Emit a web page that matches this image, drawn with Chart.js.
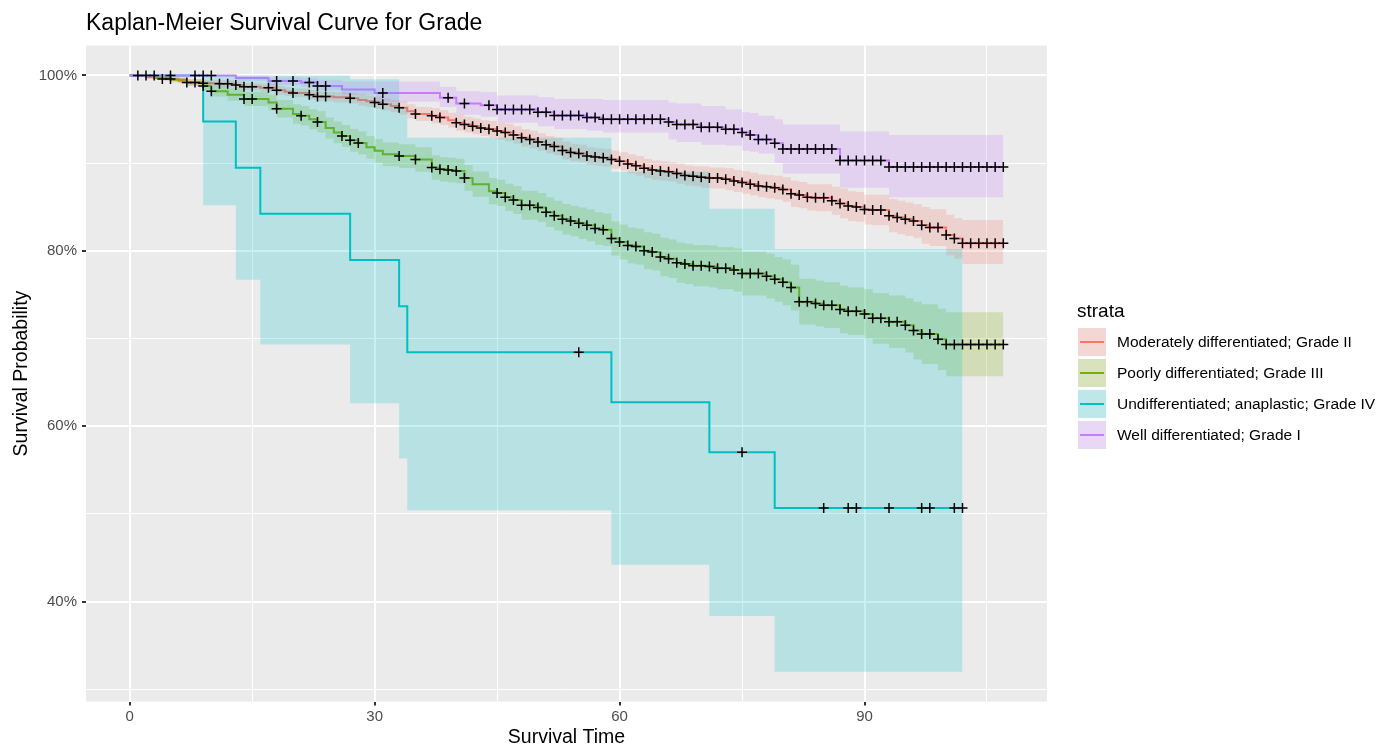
<!DOCTYPE html>
<html>
<head>
<meta charset="utf-8">
<title>Kaplan-Meier Survival Curve for Grade</title>
<script src="https://cdn.jsdelivr.net/npm/chart.js@4.4.1/dist/chart.umd.min.js"></script>
<style>
  body { margin: 0; background: #fff; font-family: 'Liberation Sans', Arial, sans-serif; }
  #wrap { position: relative; width: 1378px; height: 749px; }
  #legend { position: absolute; left: 1077px; top: 297px; color: #000; }
  #legend .ttl { font-size: 19px; line-height: 28px; height: 28px; }
  #legend .row { display: flex; align-items: center; height: 28px; margin-top: 3px; }
  #legend .key { position: relative; width: 28px; height: 28px; margin-left: 1px; background: #f2f2f2; }
  #legend .fill { position: absolute; left: 0; top: 0; right: 0; bottom: 0; }
  #legend .line { position: absolute; left: 2px; right: 2px; top: 13px; height: 2px; }
  #legend .lbl { margin-left: 11px; font-size: 15.5px; white-space: nowrap; }
</style>
</head>
<body>
<div id="wrap">
  <canvas id="km" width="1378" height="749"></canvas>
  <div id="legend"></div>
</div>
<script>
// --- data ---
const titleText = 'Kaplan-Meier Survival Curve for Grade';
const xTicks = [0, 15, 30, 45, 60, 75, 90, 105];
const yTicks = [30, 40, 50, 60, 70, 80, 90, 100];
const strataNames = [
    'Moderately differentiated; Grade II',
    'Poorly differentiated; Grade III',
    'Undifferentiated; anaplastic; Grade IV',
    'Well differentiated; Grade I'
];
const strataColors = ['#F8766D', '#7CAE00', '#00BFC4', '#C77CFF'];
const bandAlpha = 0.22;

// Moderately differentiated; Grade II
const modTime = [0,2,4,6,7,9,11,13,14,16,18,19,20,22,23,25,27,28,29,30,31,32,33,34,35,37,38,39,40,41,42,43,44,45,46,47,48,49,50,51,52,53,54,55,56,57,58,59,60,61,62,63,64,65,66,67,68,69,70,71,73,74,75,76,77,78,79,80,81,82,83,84,86,87,88,89,90,91,93,94,95,96,97,98,100,101,102,107];
const modSurv = [100,99.8,99.6,99.4,99.2,99.1,99.05,98.9,98.7,98.6,98.3,98.15,98.0,97.8,97.6,97.5,97.4,97.2,97.05,96.9,96.7,96.5,96.3,95.9,95.6,95.4,95.2,94.9,94.6,94.4,94.2,94.0,93.85,93.65,93.5,93.2,92.9,92.7,92.4,92.1,91.9,91.45,91.2,91.1,90.8,90.7,90.6,90.4,90.2,89.9,89.7,89.4,89.2,89.1,89.0,88.8,88.6,88.5,88.4,88.3,88.15,87.95,87.8,87.6,87.4,87.3,87.2,87.0,86.5,86.35,86.1,86.05,85.7,85.4,85.1,85.0,84.7,84.65,84.0,83.8,83.6,83.4,82.9,82.65,81.8,81.4,80.85,80.85];
const modLower = [100,99.65,99.35,99.1,98.85,98.75,98.65,98.5,98.3,98.15,97.8,97.65,97.5,97.25,97.05,96.9,96.8,96.55,96.4,96.2,96.0,95.8,95.55,95.1,94.8,94.55,94.35,94.05,93.7,93.5,93.3,93.1,92.9,92.7,92.5,92.2,91.9,91.7,91.4,91.1,90.9,90.45,90.2,90.1,89.8,89.7,89.6,89.35,89.15,88.8,88.6,88.3,88.1,88.0,87.9,87.65,87.45,87.35,87.2,87.1,86.9,86.7,86.5,86.3,86.1,85.95,85.85,85.6,85.0,84.85,84.6,84.5,84.1,83.7,83.4,83.3,83.0,82.9,82.1,81.9,81.7,81.5,80.8,80.55,79.5,79.1,78.5,78.5];
const modUpper = [100,99.95,99.85,99.7,99.55,99.45,99.45,99.3,99.1,99.05,98.8,98.65,98.5,98.35,98.15,98.1,98.0,97.85,97.7,97.6,97.4,97.2,97.05,96.7,96.4,96.25,96.05,95.75,95.5,95.3,95.1,94.9,94.8,94.6,94.5,94.2,93.9,93.7,93.4,93.1,92.9,92.45,92.2,92.1,91.8,91.7,91.6,91.45,91.25,91.0,90.8,90.5,90.3,90.2,90.1,89.95,89.75,89.65,89.6,89.5,89.4,89.2,89.1,88.9,88.7,88.65,88.55,88.4,88.0,87.85,87.6,87.6,87.3,87.1,86.8,86.7,86.4,86.4,85.9,85.7,85.5,85.3,85.0,84.75,84.1,83.7,83.5,83.5];
const modCensor = [4,5,7,8,9,11,12,13,14,15,17,18,20,22,23,24,27,30,31,33,35,37,38,40,41,42,43,44,45,46,47,48,49,50,51,52,53,54,55,56,57,58,59,60,61,62,63,64,65,66,67,68,69,70,71,72,73,74,75,76,77,78,79,80,81,82,83,84,85,86,87,88,89,90,91,92,93,94,95,96,97,98,99,100,101,102,103,104,105,106,107];

// Poorly differentiated; Grade III
const poorTime = [0,3,5,7,9,10,12,14,17,18,20,21,22,23,24,25,26,27,28,29,30,31,33,35,37,38,39,40,41,42,44,45,46,47,48,50,51,52,53,54,55,56,57,58,59,60,61,62,63,64,65,66,67,68,69,71,72,74,75,78,79,80,81,82,84,85,87,88,90,91,93,95,96,97,99,100,107];
const poorSurv = [100,99.7,99.5,99.2,98.8,98.2,97.8,97.3,96.9,96.2,95.6,95.4,95.0,94.7,94.0,93.5,93.1,92.6,92.3,91.8,91.4,91.0,90.8,90.4,89.5,89.3,89.2,89.1,88.3,87.6,86.8,86.6,86.1,85.8,85.2,84.95,84.4,84.0,83.6,83.4,83.15,82.9,82.55,82.4,81.4,81.0,80.6,80.5,80.0,79.85,79.3,79.1,78.65,78.5,78.3,78.2,78.0,77.8,77.4,77.1,76.75,76.4,75.8,74.2,74.0,73.8,73.3,73.1,72.8,72.3,71.9,71.5,70.9,70.5,69.9,69.3,69.3];
const poorLower = [100,99.5,99.2,98.8,98.3,97.6,97.1,96.5,96.0,95.2,94.5,94.3,93.85,93.5,92.8,92.25,91.85,91.3,91.0,90.5,90.05,89.65,89.45,89.0,88.1,87.9,87.8,87.7,86.85,86.15,85.3,85.1,84.55,84.2,83.55,83.3,82.7,82.3,81.85,81.65,81.35,81.1,80.7,80.55,79.45,79.0,78.55,78.45,77.9,77.75,77.1,76.9,76.35,76.2,75.95,75.8,75.6,75.35,74.9,74.55,74.2,73.8,73.2,71.6,71.4,71.2,70.6,70.4,70.0,69.4,68.9,68.4,67.6,67.1,66.4,65.7,65.7];
const poorUpper = [100,99.9,99.8,99.6,99.3,98.8,98.5,98.1,97.8,97.2,96.7,96.5,96.15,95.9,95.2,94.75,94.35,93.9,93.6,93.1,92.75,92.35,92.15,91.8,90.9,90.7,90.6,90.5,89.75,89.05,88.3,88.1,87.65,87.4,86.85,86.6,86.1,85.7,85.35,85.15,84.95,84.7,84.4,84.25,83.35,83.0,82.65,82.55,82.1,81.95,81.5,81.3,80.95,80.8,80.65,80.6,80.4,80.25,79.9,79.65,79.3,79.0,78.4,76.8,76.6,76.4,76.0,75.8,75.6,75.2,74.9,74.6,74.2,73.9,73.4,73.0,73.0];
const poorCensor = [9,10,14,15,18,21,23,26,27,28,33,35,37,38,39,40,41,45,46,47,48,49,50,51,52,53,54,55,56,57,58,59,60,61,62,63,64,65,66,67,68,69,70,71,72,73,74,75,76,77,78,79,80,81,82,83,84,85,86,87,88,89,90,91,92,93,94,95,96,97,98,99,100,101,102,103,104,105,106,107];

// Undifferentiated; anaplastic; Grade IV
const undTime = [0,9,13,16,27,33,34,59,71,79,102];
const undSurv = [100,94.74,89.47,84.21,78.95,73.68,68.42,62.72,57.02,50.68,50.68];
const undLower = [100,85.2,76.7,69.3,62.6,56.3,50.4,44.2,38.35,32.0,32.0];
const undUpper = [100,100,100,100,99.55,96.4,92.9,89.0,84.8,80.2,80.2];
const undCensor = [55,75,85,88,89,93,97,98,101,102];

// Well differentiated; Grade I
const wellTime = [0,13,17,21,23,26,30,38,40,43,45,50,52,56,58,66,67,70,73,75,76,77,79,80,87,93,107];
const wellSurv = [100,99.7,99.35,99.2,98.8,98.4,98.0,97.46,96.8,96.6,96.1,95.8,95.44,95.2,95.0,94.7,94.4,94.1,93.85,93.5,93.2,92.7,92.25,91.6,90.3,89.55,89.55];
const wellLower = [100,99.4,98.9,98.7,98.3,97.8,97.0,96.4,95.5,95.3,94.6,94.2,93.9,93.7,93.5,92.7,92.4,92.1,92.0,91.4,91.3,91.1,90.0,88.8,87.2,86.1,86.1];
const wellUpper = [100,100,99.8,99.7,99.5,99.3,99.3,98.7,98.2,98.1,97.7,97.5,97.3,97.3,97.2,96.9,96.8,96.5,96.1,95.8,95.7,95.4,95.0,94.4,93.6,93.2,93.2];
const wellCensor = [1,2,3,5,8,9,10,18,20,22,23,24,31,39,41,44,45,46,47,48,49,50,51,52,53,54,55,56,57,58,59,60,61,62,63,64,65,66,67,68,69,70,71,72,73,74,75,76,77,78,79,80,81,82,83,84,85,86,87,88,89,90,91,92,93,94,95,96,97,98,99,100,101,102,103,104,105,106,107];

const strata = [
    { time: modTime, surv: modSurv, lower: modLower, upper: modUpper, censor: modCensor },
    { time: poorTime, surv: poorSurv, lower: poorLower, upper: poorUpper, censor: poorCensor },
    { time: undTime, surv: undSurv, lower: undLower, upper: undUpper, censor: undCensor },
    { time: wellTime, surv: wellSurv, lower: wellLower, upper: wellUpper, censor: wellCensor }
];

function rgba(hex, a) {
    const n = parseInt(hex.slice(1), 16);
    return `rgba(${(n >> 16) & 255},${(n >> 8) & 255},${n & 255},${a})`;
}

// value of the step curve at time t (censor marks sit on the curve)
function survAt(time, surv, t) {
    let s = surv[0];
    for (let i = 0; i < time.length && time[i] <= t; i++) s = surv[i];
    return s;
}

function toPoints(time, vals) {
    return time.map((t, i) => ({ x: t, y: vals[i] }));
}

const datasets = [];

// curves first (drawn underneath the ribbons, as in ggsurvplot)
strata.forEach((s, i) => {
    datasets.push({
        label: strataNames[i],
        data: toPoints(s.time, s.surv),
        borderColor: strataColors[i],
        borderWidth: 2,
        stepped: true,
        pointRadius: 0,
        fill: false,
        order: 13 - i
    });
});

// confidence ribbons: upper filled down to the lower one
strata.forEach((s, i) => {
    datasets.push({
        label: strataNames[i] + ' upper',
        data: toPoints(s.time, s.upper),
        backgroundColor: rgba(strataColors[i], bandAlpha),
        borderColor: 'rgba(0,0,0,0)',
        borderWidth: 0,
        stepped: true,
        pointRadius: 0,
        fill: '+1',
        order: 9 - i
    });
    datasets.push({
        label: strataNames[i] + ' lower',
        data: toPoints(s.time, s.lower),
        borderColor: 'rgba(0,0,0,0)',
        borderWidth: 0,
        stepped: true,
        pointRadius: 0,
        fill: false,
        order: 9 - i
    });
});

// censor marks
strata.forEach((s, i) => {
    datasets.push({
        label: strataNames[i] + ' censored',
        data: s.censor.map(t => ({ x: t, y: survAt(s.time, s.surv, t) })),
        showLine: false,
        pointStyle: 'cross',
        pointRadius: 5,
        pointBorderColor: '#000',
        pointBorderWidth: 1.5,
        order: 0
    });
});

const panelBg = {
    id: 'panelBg',
    beforeDraw(chart) {
        const { ctx, chartArea: a } = chart;
        ctx.save();
        ctx.fillStyle = '#EBEBEB';
        ctx.fillRect(a.left, a.top, a.right - a.left, a.bottom - a.top);
        ctx.restore();
    }
};

Chart.defaults.font.family = "'Liberation Sans', Arial, sans-serif";

const isMajorX = v => v % 30 === 0;
const isMajorY = v => v % 20 === 0;

new Chart(document.getElementById('km'), {
    type: 'line',
    data: { datasets },
    options: {
        responsive: false,
        animation: false,
        events: [],
        layout: { padding: { left: 0, right: 331, top: 0, bottom: 0 } },
        plugins: {
            legend: { display: false },
            tooltip: { enabled: false },
            title: {
                display: true,
                text: titleText,
                align: 'start',
                fullSize: false,
                color: '#000',
                font: { size: 23, weight: 'normal' },
                padding: { top: 10, bottom: 8 }
            }
        },
        scales: {
            x: {
                type: 'linear',
                min: -5.35,
                max: 112.35,
                afterBuildTicks: sc => { sc.ticks = xTicks.map(v => ({ value: v })); },
                afterFit: sc => { sc.height = 47.5; },
                border: { display: false },
                grid: {
                    color: '#FFFFFF',
                    lineWidth: c => (c.tick && isMajorX(c.tick.value)) ? 2 : 1,
                    drawTicks: true,
                    tickLength: 4,
                    tickWidth: 2,
                    tickColor: c => (c.tick && isMajorX(c.tick.value)) ? '#333333' : 'rgba(0,0,0,0)'
                },
                ticks: {
                    color: '#4D4D4D',
                    font: { size: 15 },
                    padding: 2,
                    maxRotation: 0,
                    autoSkip: false,
                    callback: v => isMajorX(v) ? String(v) : ''
                },
                title: {
                    display: true,
                    text: 'Survival Time',
                    color: '#000',
                    font: { size: 19.5 },
                    padding: { top: 0, bottom: 0 }
                }
            },
            y: {
                min: 28.6,
                max: 103.4,
                afterBuildTicks: sc => { sc.ticks = yTicks.map(v => ({ value: v })); },
                afterFit: sc => { sc.width = 86; },
                border: { display: false },
                grid: {
                    color: '#FFFFFF',
                    lineWidth: c => (c.tick && isMajorY(c.tick.value)) ? 2 : 1,
                    drawTicks: true,
                    tickLength: 4,
                    tickWidth: 2,
                    tickColor: c => (c.tick && isMajorY(c.tick.value)) ? '#333333' : 'rgba(0,0,0,0)'
                },
                ticks: {
                    color: '#4D4D4D',
                    font: { size: 15 },
                    padding: 5,
                    autoSkip: false,
                    callback: v => isMajorY(v) ? v + '%' : ''
                },
                title: {
                    display: true,
                    text: 'Survival Probability',
                    color: '#000',
                    font: { size: 19.5 },
                    padding: { top: 10, bottom: 0 }
                }
            }
        }
    },
    plugins: [panelBg]
});

// legend (ggplot style keys: ribbon fill + line)
const legend = document.getElementById('legend');
let html = '<div class="ttl">strata</div>';
strataNames.forEach((name, i) => {
    html += '<div class="row"><div class="key">' +
        `<div class="line" style="background:${strataColors[i]}"></div>` +
        `<div class="fill" style="background:${rgba(strataColors[i], bandAlpha)}"></div>` +
        `</div><div class="lbl">${name}</div></div>`;
});
legend.innerHTML = html;
</script>
</body>
</html>
